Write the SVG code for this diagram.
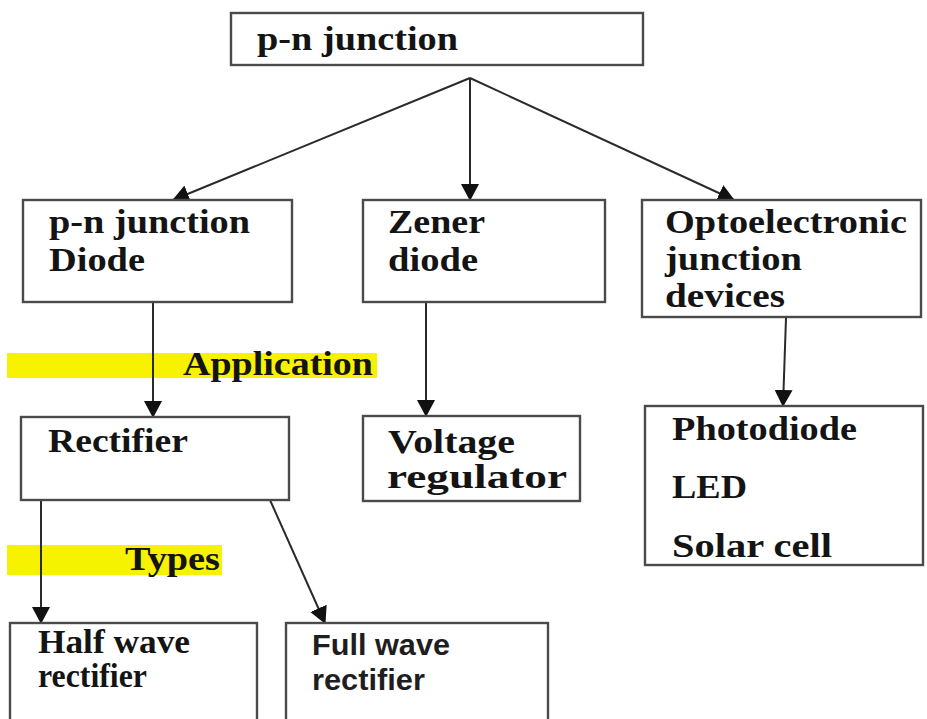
<svg xmlns="http://www.w3.org/2000/svg" width="927" height="719" viewBox="0 0 927 719">
<style>
.box{fill:#fff;stroke:#4a4a4a;stroke-width:2.4}
.t{font-family:"Liberation Serif","Times New Roman",serif;font-weight:bold;font-size:33px;fill:#141414}
.s{font-family:"Liberation Sans",Arial,sans-serif;font-weight:bold;font-size:30px;fill:#1e1e1e}
.hl{fill:#f7f200}
.c{stroke:#2a2a2a;stroke-width:2;fill:none;marker-end:url(#ah)}
</style>
<defs>
<marker id="ah" markerWidth="17" markerHeight="18" refX="16" refY="9" orient="auto" markerUnits="userSpaceOnUse">
<path d="M0,0 L17,9 L0,18 z" fill="#111"/>
</marker>
</defs>
<rect width="927" height="719" fill="#fff"/>
<g id="labels">
<rect class="hl" x="7" y="353" width="370" height="25"/>
<text class="t" x="183" y="375" textLength="190" lengthAdjust="spacingAndGlyphs" font-size="30">Application</text>
<rect class="hl" x="7" y="545" width="215" height="30"/>
<text class="t" x="125" y="570" textLength="95" lengthAdjust="spacingAndGlyphs" font-size="31">Types</text>
</g>
<g id="connectors">
<line class="c" x1="470" y1="78" x2="173" y2="200"/>
<line class="c" x1="470" y1="78" x2="470" y2="200"/>
<line class="c" x1="470" y1="78" x2="734" y2="200"/>
<line class="c" x1="153" y1="302" x2="153" y2="417"/>
<line class="c" x1="426" y1="302" x2="426" y2="416"/>
<line class="c" x1="786" y1="318" x2="783" y2="406"/>
<line class="c" x1="41" y1="500" x2="41" y2="623"/>
<line class="c" x1="270" y1="500" x2="325" y2="623"/>
</g>
<g id="pn-junction">
<rect class="box" x="231" y="13" width="412" height="52"/>
<text class="t" x="257" y="50" textLength="201" lengthAdjust="spacingAndGlyphs">p-n junction</text>
</g>
<g id="pn-diode">
<rect class="box" x="23" y="200" width="269" height="102"/>
<text class="t" x="49" y="233" textLength="201" lengthAdjust="spacingAndGlyphs">p-n junction</text>
<text class="t" x="49" y="271" textLength="96" lengthAdjust="spacingAndGlyphs">Diode</text>
</g>
<g id="zener">
<rect class="box" x="363" y="200" width="242" height="102"/>
<text class="t" x="388" y="233" textLength="97" lengthAdjust="spacingAndGlyphs">Zener</text>
<text class="t" x="388" y="271" textLength="90" lengthAdjust="spacingAndGlyphs">diode</text>
</g>
<g id="opto">
<rect class="box" x="642" y="200" width="279" height="117"/>
<text class="t" x="665" y="233" textLength="242" lengthAdjust="spacingAndGlyphs">Optoelectronic</text>
<text class="t" x="665" y="270" textLength="137" lengthAdjust="spacingAndGlyphs">junction</text>
<text class="t" x="665" y="307" textLength="120" lengthAdjust="spacingAndGlyphs">devices</text>
</g>
<g id="rectifier">
<rect class="box" x="21" y="417" width="268" height="83"/>
<text class="t" x="48" y="452" textLength="140" lengthAdjust="spacingAndGlyphs" font-size="31">Rectifier</text>
</g>
<g id="voltage">
<rect class="box" x="363" y="416" width="217" height="85"/>
<text class="t" x="388" y="453" textLength="127" lengthAdjust="spacingAndGlyphs">Voltage</text>
<text class="t" x="387" y="488" textLength="180" lengthAdjust="spacingAndGlyphs">regulator</text>
</g>
<g id="opto-list">
<rect class="box" x="645" y="406" width="278" height="159"/>
<text class="t" x="672" y="440" textLength="185" lengthAdjust="spacingAndGlyphs">Photodiode</text>
<text class="t" x="672" y="498" textLength="75" lengthAdjust="spacingAndGlyphs">LED</text>
<text class="t" x="672" y="557" textLength="160" lengthAdjust="spacingAndGlyphs">Solar cell</text>
</g>
<g id="half-wave">
<rect class="box" x="10" y="623" width="247" height="110"/>
<text class="t" x="38" y="653" textLength="152" lengthAdjust="spacingAndGlyphs">Half wave</text>
<text class="t" x="38" y="687" textLength="109" lengthAdjust="spacingAndGlyphs">rectifier</text>
</g>
<g id="full-wave">
<rect class="box" x="286" y="623" width="262" height="110"/>
<text class="s" x="312" y="655" textLength="138" lengthAdjust="spacingAndGlyphs">Full wave</text>
<text class="s" x="312" y="690" textLength="113" lengthAdjust="spacingAndGlyphs">rectifier</text>
</g>
</svg>
